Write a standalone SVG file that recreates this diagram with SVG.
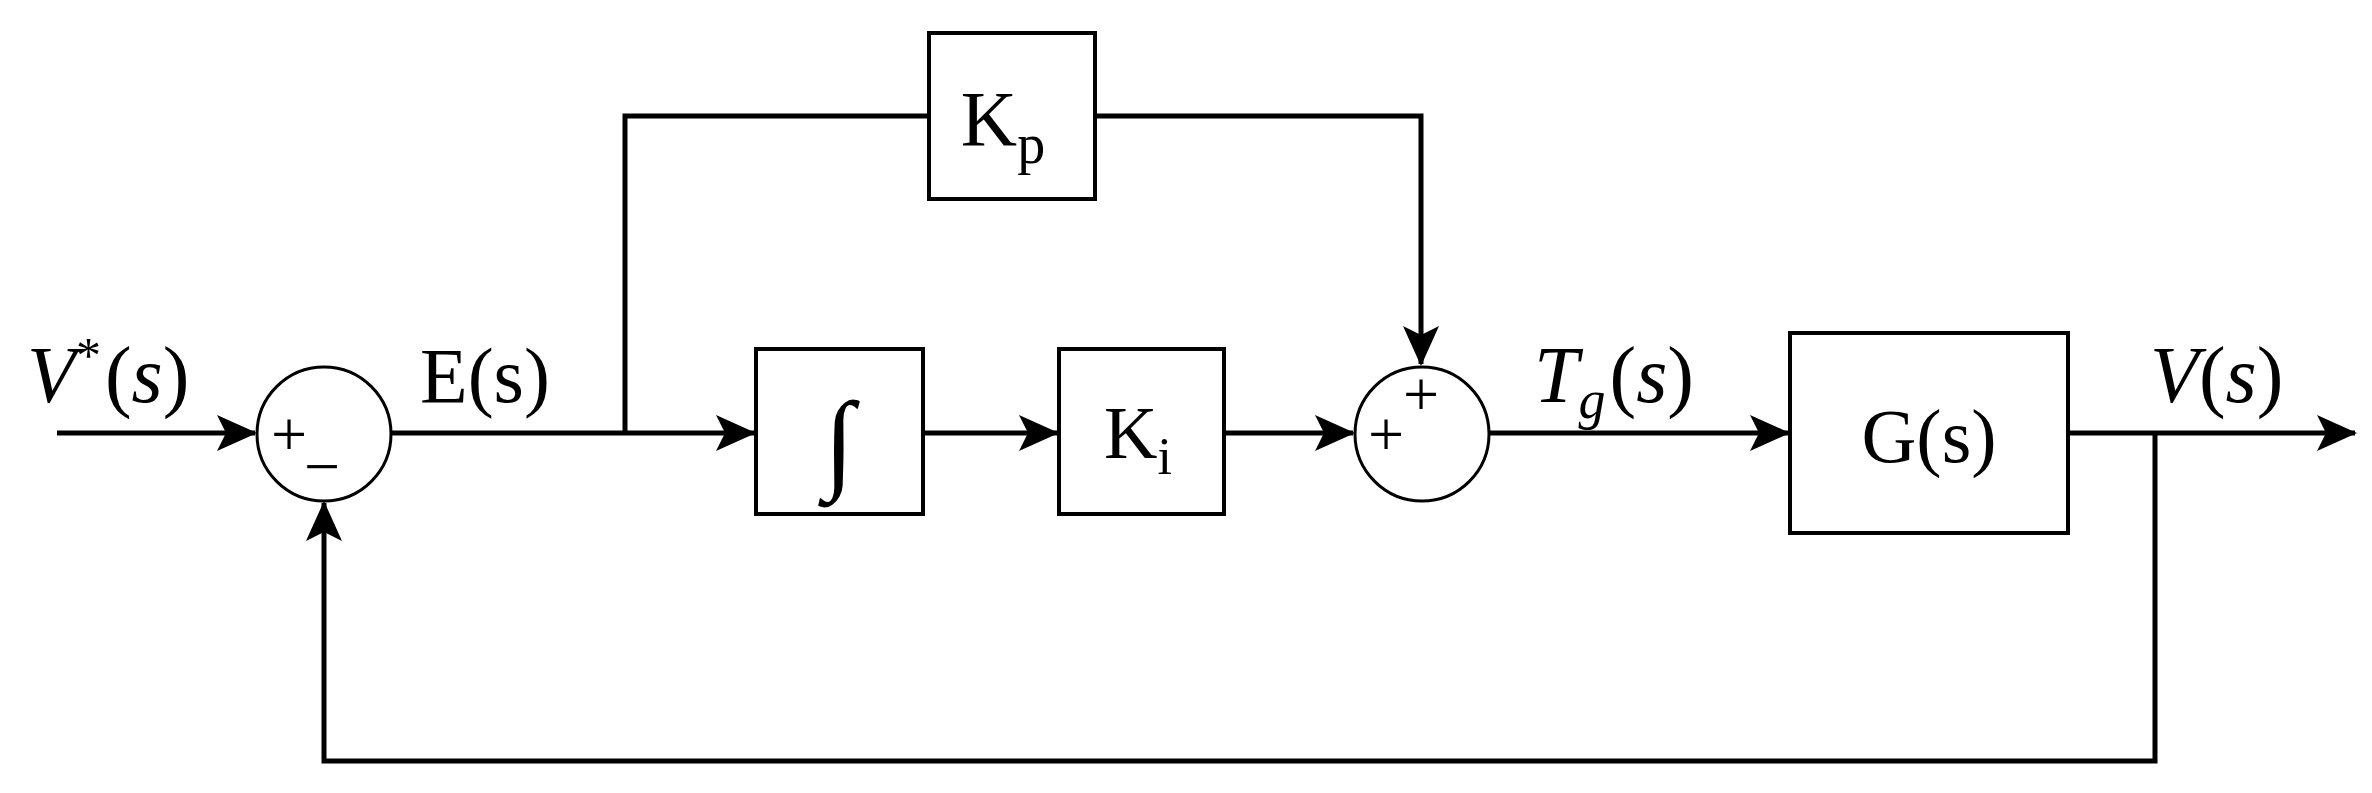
<svg xmlns="http://www.w3.org/2000/svg" width="2372" height="793" viewBox="0 0 2372 793">
<style>
.b{fill:#fff;stroke:#000;stroke-width:4}
.c{fill:#fff;stroke:#000;stroke-width:3}
.w{fill:none;stroke:#000;stroke-width:5}
.t{font-family:"Liberation Serif",serif;fill:#000}
.i{font-style:italic}
.sg{font-family:"Liberation Serif",serif;font-size:64px;fill:#000;text-anchor:middle}
</style>
<defs>
<marker id="a" markerUnits="userSpaceOnUse" markerWidth="40" markerHeight="36" refX="38" refY="18" orient="auto">
<path d="M0,0 L40,18 L0,36 L9,18 Z" fill="#000"/>
</marker>
</defs>
<g id="connectors">
<line class="w" x1="57" y1="433" x2="255" y2="433" marker-end="url(#a)"/>
<line class="w" x1="391" y1="433" x2="754" y2="433" marker-end="url(#a)"/>
<polyline class="w" points="625,433 625,116 929,116"/>
<polyline class="w" points="1095,116 1421,116 1421,364" marker-end="url(#a)"/>
<line class="w" x1="923" y1="433" x2="1057" y2="433" marker-end="url(#a)"/>
<line class="w" x1="1224" y1="433" x2="1353" y2="433" marker-end="url(#a)"/>
<line class="w" x1="1489" y1="433" x2="1788" y2="433" marker-end="url(#a)"/>
<line class="w" x1="2068" y1="433" x2="2355" y2="433" marker-end="url(#a)"/>
<polyline class="w" points="2155,433 2155,761 324,761 324,503" marker-end="url(#a)"/>
</g>
<g id="sum1">
<circle class="c" cx="324" cy="434" r="67"/>
<text class="sg" x="289" y="456">+</text>
<text class="sg" x="322" y="488">−</text>
</g>
<g id="kp">
<rect class="b" x="929" y="33" width="166" height="166"/>
<text class="t" x="1003" y="145" font-size="78" text-anchor="middle">K<tspan font-size="56" dy="18">p</tspan></text>
</g>
<g id="integral">
<rect class="b" x="756" y="349" width="167" height="165"/>
<text class="t" x="839" y="478" font-size="110" text-anchor="middle">∫</text>
</g>
<g id="ki">
<rect class="b" x="1059" y="349" width="165" height="165"/>
<text class="t" x="1138" y="458" font-size="74" text-anchor="middle">K<tspan font-size="52" dy="16">i</tspan></text>
</g>
<g id="sum2">
<circle class="c" cx="1422" cy="434" r="67"/>
<text class="sg" x="1386" y="456">+</text>
<text class="sg" x="1421" y="416">+</text>
</g>
<g id="gs">
<rect class="b" x="1790" y="333" width="278" height="200"/>
<text class="t" x="1929" y="462" font-size="76" text-anchor="middle">G(s)</text>
</g>
<g id="labels">
<text class="t" x="27" y="402" font-size="80"><tspan class="i">V</tspan><tspan font-size="50" dy="-30">*</tspan><tspan dy="30" dx="4">(</tspan><tspan class="i">s</tspan>)</text>
<text class="t" x="420" y="402" font-size="78">E(s)</text>
<text class="t" x="1534" y="402" font-size="80"><tspan class="i">T</tspan><tspan class="i" font-size="54" dy="16">g</tspan><tspan dy="-16" dx="4">(</tspan><tspan class="i">s</tspan>)</text>
<text class="t" x="2150" y="402" font-size="80"><tspan class="i">V</tspan>(<tspan class="i">s</tspan>)</text>
</g>
</svg>
